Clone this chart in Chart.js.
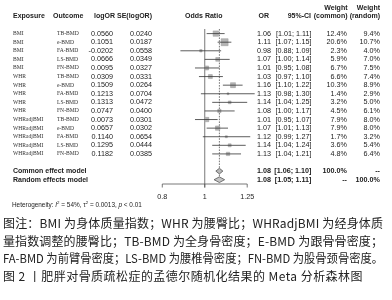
<!DOCTYPE html>
<html>
<head>
<meta charset="utf-8">
<script src="https://cdn.jsdelivr.net/npm/chart.js@4.4.0/dist/chart.umd.min.js"></script>
<style>
html, body { margin: 0; padding: 0; background: #fff; }
#wrap { position: relative; width: 392px; height: 300px; overflow: hidden; }
#forest { position: absolute; left: 0; top: 0; }
.cap { position: absolute; left: 3px; font: 12px "Noto Sans CJK SC"; color: #222;
       line-height: 17px; white-space: nowrap; transform-origin: 0 50%; }
</style>
</head>
<body>
<div id="wrap">
  <canvas id="forest" width="392" height="300"></canvas>
  <div class="cap fit" style="top:214px">图注：BMI 为身体质量指数；WHR 为腰臀比；WHRadjBMI 为经身体质</div>
  <div class="cap fit" style="top:232px">量指数调整的腰臀比；TB-BMD 为全身骨密度；E-BMD 为跟骨骨密度；</div>
  <div class="cap fit" style="top:249px">FA-BMD 为前臂骨密度；LS-BMD 为腰椎骨密度；FN-BMD 为股骨颈骨密度。</div>
  <div class="cap" style="top:267px;letter-spacing:0.45px">图 2 丨肥胖对骨质疏松症的孟德尔随机化结果的 Meta 分析森林图</div>
</div>
<script>
// study rows
const exposures = ['BMI', 'BMI', 'BMI', 'BMI', 'BMI',
    'WHR', 'WHR', 'WHR', 'WHR', 'WHR',
    'WHRadjBMI', 'WHRadjBMI', 'WHRadjBMI', 'WHRadjBMI', 'WHRadjBMI'];
const outcomes = ['TB-BMD', 'e-BMD', 'FA-BMD', 'LS-BMD', 'FN-BMD',
    'TB-BMD', 'e-BMD', 'FA-BMD', 'LS-BMD', 'FN-BMD',
    'TB-BMD', 'e-BMD', 'FA-BMD', 'LS-BMD', 'FN-BMD'];
const logOR = [0.0560, 0.1051, -0.0202, 0.0666, 0.0095, 0.0309, 0.1509, 0.1213, 0.1313, 0.0747,
    0.0073, 0.0657, 0.1140, 0.1295, 0.1182];
const seLogOR = [0.0240, 0.0187, 0.0558, 0.0349, 0.0327, 0.0331, 0.0264, 0.0704, 0.0472, 0.0400,
    0.0301, 0.0302, 0.0654, 0.0444, 0.0385];
const orVals = [1.06, 1.11, 0.98, 1.07, 1.01, 1.03, 1.16, 1.13, 1.14, 1.08, 1.01, 1.07, 1.12, 1.14, 1.13];
const ciLow = [1.01, 1.07, 0.88, 1.00, 0.95, 0.97, 1.10, 0.98, 1.04, 1.00, 0.95, 1.01, 0.99, 1.04, 1.04];
const ciHigh = [1.11, 1.15, 1.09, 1.14, 1.08, 1.10, 1.22, 1.30, 1.25, 1.17, 1.07, 1.13, 1.27, 1.24, 1.21];
const weightCommon = [12.4, 20.6, 2.3, 5.9, 6.7, 6.6, 10.3, 1.4, 3.2, 4.5, 7.9, 7.9, 1.7, 3.6, 4.8];
const weightRandom = [9.4, 10.7, 4.0, 7.0, 7.5, 7.4, 8.9, 2.9, 5.0, 6.1, 8.0, 8.0, 3.2, 5.4, 6.4];

// pooled estimates
const pooledLabels = ['Common effect model', 'Random effects model'];
const pooledOR = [1.08, 1.08];
const pooledLow = [1.06, 1.05];
const pooledHigh = [1.10, 1.11];
const pooledWCommon = ['100.0%', '--'];
const pooledWRandom = ['--', '100.0%'];

const xTicks = [0.8, 1, 1.25];
const heterogeneity = { i2: '54%', tau2: '0.0013', p: '< 0.01' };

const studyRow = i => i + 1;
const pooledRow = k => 17 + k;

// CI whiskers as one broken line
const ciPoints = [];
orVals.forEach((v, i) => {
    ciPoints.push({ x: Math.log(ciLow[i]), y: studyRow(i) });
    ciPoints.push({ x: Math.log(ciHigh[i]), y: studyRow(i) });
    ciPoints.push({ x: null, y: null });
});

const squarePoints = orVals.map((v, i) => ({ x: Math.log(v), y: studyRow(i) }));
const maxW = Math.max(...weightCommon);
const squareRadius = weightCommon.map(w => 7 * Math.sqrt(w / maxW) / Math.SQRT2);

function diamond(k) {
    const r = pooledRow(k);
    return [
        { x: Math.log(pooledLow[k]), y: r },
        { x: Math.log(pooledOR[k]), y: r - 0.33 },
        { x: Math.log(pooledHigh[k]), y: r },
        { x: Math.log(pooledOR[k]), y: r + 0.33 },
        { x: Math.log(pooledLow[k]), y: r }
    ];
}

const TXT = '#222';
const NUM_FONT = '7.2px "Liberation Sans", Arial, sans-serif';
const BOLD_NUM = 'bold 7.2px "Liberation Sans", Arial, sans-serif';
const HEAD_FONT = 'bold 7px "Liberation Sans", Arial, sans-serif';
const LABEL_FONT = '5.6px "Liberation Serif", "Times New Roman", serif';

function txt(ctx, s, x, y, align, font) {
    ctx.font = font;
    ctx.textAlign = align;
    ctx.fillText(s, x, y);
}

const forestDecor = {
    id: 'forestDecor',
    beforeDatasetsDraw(chart) {
        const { ctx, scales: { x, y } } = chart;
        const top = 29;
        const axisY = y.getPixelForValue(18.5);
        ctx.save();
        ctx.strokeStyle = '#555';
        ctx.lineWidth = 0.8;
        const x1 = x.getPixelForValue(0);
        ctx.beginPath();
        ctx.moveTo(x1, top);
        ctx.lineTo(x1, axisY + 3.5);
        ctx.stroke();
        ctx.setLineDash([1.6, 1.2]);
        const xc = x.getPixelForValue(Math.log(pooledOR[0]));
        ctx.beginPath();
        ctx.moveTo(xc, top);
        ctx.lineTo(xc, y.getPixelForValue(17.6));
        ctx.stroke();
        ctx.restore();
    },
    afterDraw(chart) {
        const { ctx, scales: { x, y } } = chart;
        const axisY = y.getPixelForValue(18.5);
        ctx.save();

        // x axis
        ctx.strokeStyle = '#555';
        ctx.lineWidth = 0.8;
        ctx.beginPath();
        ctx.moveTo(x.getPixelForValue(Math.log(xTicks[0])), axisY);
        ctx.lineTo(x.getPixelForValue(Math.log(xTicks[xTicks.length - 1])), axisY);
        xTicks.forEach(t => {
            const px = x.getPixelForValue(Math.log(t));
            ctx.moveTo(px, axisY);
            ctx.lineTo(px, axisY + 3.5);
        });
        ctx.stroke();
        ctx.fillStyle = TXT;
        ctx.textBaseline = 'middle';
        xTicks.forEach(t => txt(ctx, String(t), x.getPixelForValue(Math.log(t)), 197, 'center', NUM_FONT));

        // headers
        const hy = 16.5;
        txt(ctx, 'Exposure', 13, hy, 'left', HEAD_FONT);
        txt(ctx, 'Outcome', 53, hy, 'left', HEAD_FONT);
        txt(ctx, 'logOR', 115, hy, 'right', HEAD_FONT);
        txt(ctx, 'SE(logOR)', 152, hy, 'right', HEAD_FONT);
        txt(ctx, 'Odds Ratio', x.getPixelForValue(0) - 1, hy, 'center', HEAD_FONT);
        txt(ctx, 'OR', 269, hy, 'right', HEAD_FONT);
        txt(ctx, '95%-CI', 311, hy, 'right', HEAD_FONT);
        txt(ctx, 'Weight', 347.5, 8.5, 'right', HEAD_FONT);
        txt(ctx, '(common)', 347.5, hy, 'right', HEAD_FONT);
        txt(ctx, 'Weight', 380, 8.5, 'right', HEAD_FONT);
        txt(ctx, '(random)', 380, hy, 'right', HEAD_FONT);

        // study rows
        exposures.forEach((e, i) => {
            const py = y.getPixelForValue(studyRow(i));
            ctx.fillStyle = '#333';
            txt(ctx, e, 13, py, 'left', LABEL_FONT);
            txt(ctx, outcomes[i], 57, py, 'left', LABEL_FONT);
            ctx.fillStyle = TXT;
            txt(ctx, logOR[i].toFixed(4), 113, py, 'right', NUM_FONT);
            txt(ctx, seLogOR[i].toFixed(4), 152, py, 'right', NUM_FONT);
            txt(ctx, orVals[i].toFixed(2), 271, py, 'right', NUM_FONT);
            txt(ctx, '[' + ciLow[i].toFixed(2) + '; ' + ciHigh[i].toFixed(2) + ']', 311.5, py, 'right', NUM_FONT);
            txt(ctx, weightCommon[i].toFixed(1) + '%', 347, py, 'right', NUM_FONT);
            txt(ctx, weightRandom[i].toFixed(1) + '%', 380, py, 'right', NUM_FONT);
        });

        // pooled rows
        pooledLabels.forEach((lab, k) => {
            const py = y.getPixelForValue(pooledRow(k));
            txt(ctx, lab, 13, py, 'left', HEAD_FONT);
            txt(ctx, pooledOR[k].toFixed(2), 271, py, 'right', BOLD_NUM);
            txt(ctx, '[' + pooledLow[k].toFixed(2) + '; ' + pooledHigh[k].toFixed(2) + ']', 311.5, py, 'right', BOLD_NUM);
            txt(ctx, pooledWCommon[k], 347, py, 'right', BOLD_NUM);
            txt(ctx, pooledWRandom[k], 380, py, 'right', BOLD_NUM);
        });

        // heterogeneity line
        const hf = '6.4px "Liberation Sans", Arial, sans-serif';
        const hi = 'italic 6.4px "Liberation Sans", Arial, sans-serif';
        const sup = '4.4px "Liberation Sans", Arial, sans-serif';
        const parts = [
            ['Heterogeneity: ', hf, 0], ['I', hi, 0], ['2', sup, -2.3],
            [' = ' + heterogeneity.i2 + ', \u03c4', hf, 0], ['2', sup, -2.3],
            [' = ' + heterogeneity.tau2 + ', ', hf, 0], ['p', hi, 0], [' ' + heterogeneity.p, hf, 0]
        ];
        let hx = 12;
        parts.forEach(([s, f, dy]) => {
            ctx.font = f;
            ctx.textAlign = 'left';
            ctx.fillText(s, hx, 205 + dy);
            hx += ctx.measureText(s).width;
        });
        ctx.restore();
    }
};

new Chart(document.getElementById('forest'), {
    type: 'scatter',
    data: {
        datasets: [
            {
                type: 'line',
                data: ciPoints,
                borderColor: '#333',
                borderWidth: 0.8,
                pointRadius: 0,
                spanGaps: false,
                order: 0
            },
            {
                data: squarePoints,
                pointStyle: 'rect',
                pointRadius: squareRadius,
                backgroundColor: '#b4b4b4',
                borderColor: '#9a9a9a',
                borderWidth: 0.5,
                order: 1
            },
            {
                type: 'line',
                data: diamond(0),
                borderColor: '#555',
                borderWidth: 0.8,
                backgroundColor: '#b8b8b8',
                fill: 'shape',
                pointRadius: 0,
                order: 2
            },
            {
                type: 'line',
                data: diamond(1),
                borderColor: '#555',
                borderWidth: 0.8,
                backgroundColor: '#c4c4c4',
                fill: 'shape',
                pointRadius: 0,
                order: 2
            }
        ]
    },
    options: {
        responsive: false,
        animation: false,
        layout: { padding: { left: 150, right: 132.5, top: 25, bottom: 116 } },
        scales: {
            x: { type: 'linear', min: Math.log(0.75), max: Math.log(1 / 0.75), display: false },
            y: { type: 'linear', min: 0, max: 18.5, reverse: true, display: false }
        },
        plugins: {
            legend: { display: false },
            tooltip: { enabled: false }
        }
    },
    plugins: [forestDecor]
});

// stretch or squeeze the first three caption lines to the full width, like the justified original
const CAPTION_WIDTH = 380;
document.querySelectorAll('.cap.fit').forEach(el => {
    const w = el.getBoundingClientRect().width;
    const n = el.textContent.length;
    if (w < CAPTION_WIDTH) {
        el.style.letterSpacing = ((CAPTION_WIDTH - w) / (n - 1)) + 'px';
    } else {
        el.style.transform = 'scaleX(' + (CAPTION_WIDTH / w) + ')';
    }
});
</script>
</body>
</html>
